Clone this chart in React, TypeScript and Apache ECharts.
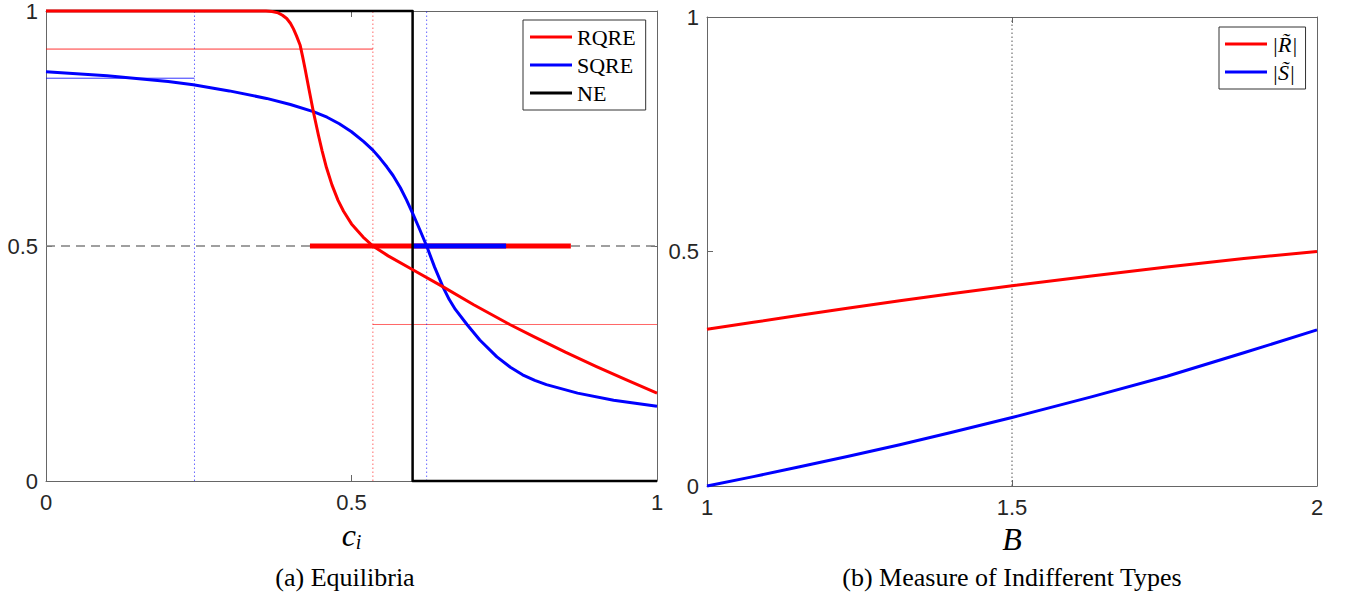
import React, { useEffect, useRef } from "react";
import * as echarts from "echarts";

// ---- Panel (a): Equilibria ----
const rqreC = [0, 0.3, 0.36, 0.37, 0.38, 0.387, 0.394, 0.4, 0.405, 0.41, 0.416, 0.42, 0.424, 0.43, 0.4375, 0.446, 0.452, 0.459, 0.468, 0.478, 0.487, 0.5, 0.519, 0.535, 0.56, 0.601, 0.65, 0.7, 0.759, 0.8, 0.85, 0.9, 0.95, 1.0];
const rqreP = [1, 1, 1, 0.999, 0.996, 0.991, 0.984, 0.974, 0.962, 0.947, 0.927, 0.903, 0.877, 0.836, 0.786, 0.735, 0.702, 0.667, 0.63, 0.597, 0.574, 0.547, 0.519, 0.5, 0.479, 0.449, 0.413, 0.375, 0.333, 0.306, 0.274, 0.244, 0.215, 0.187];
const sqreC = [0, 0.1, 0.2, 0.241, 0.3, 0.361, 0.4, 0.4375, 0.46, 0.48, 0.5, 0.52, 0.535, 0.547, 0.558, 0.568, 0.58, 0.59, 0.601, 0.612, 0.623, 0.636, 0.65, 0.66, 0.67, 0.689, 0.71, 0.738, 0.76, 0.78, 0.8, 0.819, 0.87, 0.929, 1];
const sqreP = [0.871, 0.862, 0.85, 0.843, 0.83, 0.814, 0.801, 0.786, 0.774, 0.76, 0.743, 0.722, 0.704, 0.686, 0.668, 0.65, 0.624, 0.598, 0.567, 0.534, 0.5, 0.455, 0.412, 0.386, 0.365, 0.333, 0.3, 0.264, 0.242, 0.226, 0.214, 0.205, 0.187, 0.172, 0.159];
const neC = [0, 0.6, 0.6, 1];
const neP = [1, 1, 0, 0];
const halfLevel = 0.5;
const rqreHigh = { level: 0.919, from: 0, to: 0.535 };
const sqreHigh = { level: 0.857, from: 0, to: 0.243 };
const rqreLow = { level: 0.333, from: 0.535, to: 1 };
const blueDotted = [0.243, 0.623];
const redDotted = [0.535];
const rqreRange = [0.432, 0.859];
const sqreRange = [0.6, 0.753];
const ticksA = { xMin: 0, xMax: 1, yMin: 0, yMax: 1, step: 0.5 };

// ---- Panel (b): Measure of Indifferent Types ----
const bVals = [1, 1.076, 1.152, 1.23, 1.316, 1.4, 1.5, 1.63, 1.754, 1.88, 2];
const rTilde = [0.334, 0.349, 0.364, 0.379, 0.395, 0.41, 0.427, 0.448, 0.467, 0.485, 0.5];
const sTilde = [0, 0.02, 0.041, 0.063, 0.088, 0.114, 0.146, 0.19, 0.234, 0.284, 0.333];
const bDotted = [1.5];
const ticksB = { xMin: 1, xMax: 2, yMin: 0, yMax: 1, step: 0.5 };

const zip = (xs: number[], ys: number[]) => xs.map((x, i) => [x, ys[i]]);

const SANS = "'Liberation Sans', Arial, Helvetica, sans-serif";
const SERIF = "'Liberation Serif', 'DejaVu Serif', serif";
const AXC = "#666";
const LBL = "#262626";

function axis(kind: "x" | "y", grid: number, pos: string, t: any, labels: boolean, extra: any = {}) {
  return {
    type: "value",
    gridIndex: grid,
    position: pos,
    min: kind === "x" ? t.xMin : t.yMin,
    max: kind === "x" ? t.xMax : t.yMax,
    interval: t.step,
    axisLine: { show: true, onZero: false, lineStyle: { color: AXC, width: 1 } },
    axisTick: { show: true, inside: true, length: 6, lineStyle: { color: AXC, width: 1 } },
    axisLabel: { show: labels, color: LBL, fontFamily: SANS, fontSize: 22, margin: kind === "x" ? 10 : 8 },
    splitLine: { show: false },
    ...extra,
  };
}

function seg(name: string, data: number[][], color: string, width: number, type: any, opacity = 1, xi = 0, yi = 0, z = 2) {
  return {
    type: "line",
    name,
    xAxisIndex: xi,
    yAxisIndex: yi,
    data,
    symbol: "none",
    clip: false,
    silent: true,
    z,
    lineStyle: { color, width, type, opacity, join: "round" },
  };
}

export default function App() {
  const ref = useRef<HTMLDivElement>(null);
  useEffect(() => {
    if (!ref.current) return;
    const chart = echarts.init(ref.current, undefined, { renderer: "svg" });
    const series: any[] = [];
    // panel a
    series.push(seg("", [[ticksA.xMin, halfLevel], [ticksA.xMax, halfLevel]], "#808080", 1.5, [9, 6], 1, 0, 0, 1));
    series.push(seg("", [[rqreHigh.from, rqreHigh.level], [rqreHigh.to, rqreHigh.level]], "#ff0000", 1, "solid", 0.8));
    series.push(seg("", [[sqreHigh.from, sqreHigh.level], [sqreHigh.to, sqreHigh.level]], "#0000ff", 1, "solid", 0.8));
    series.push(seg("", [[rqreLow.from, rqreLow.level], [rqreLow.to, rqreLow.level]], "#ff0000", 1, "solid", 0.6));
    blueDotted.forEach((x) => series.push(seg("", [[x, ticksA.yMin], [x, ticksA.yMax]], "#0000ff", 1, [1.5, 2.5], 0.6)));
    redDotted.forEach((x) => series.push(seg("", [[x, ticksA.yMin], [x, ticksA.yMax]], "#ff0000", 1, [1.5, 2.5], 0.6)));
    series.push(seg("", [[rqreRange[0], halfLevel], [rqreRange[1], halfLevel]], "#ff0000", 5, "solid", 1, 0, 0, 3));
    series.push(seg("", [[sqreRange[0], halfLevel], [sqreRange[1], halfLevel]], "#0000ff", 5, "solid", 1, 0, 0, 3));
    series.push({ ...seg("NE", zip(neC, neP), "#000000", 2.5, "solid", 1, 0, 0, 4), color: "#000000" });
    series.push({ ...seg("SQRE", zip(sqreC, sqreP), "#0000ff", 3, "solid", 1, 0, 0, 5), color: "#0000ff" });
    series.push({ ...seg("RQRE", zip(rqreC, rqreP), "#ff0000", 3, "solid", 1, 0, 0, 6), color: "#ff0000" });
    // panel b
    bDotted.forEach((x) => series.push(seg("", [[x, ticksB.yMin], [x, ticksB.yMax]], "#555555", 1, [1.5, 2.5], 1, 2, 2)));
    series.push({ ...seg("|R\u0303|", zip(bVals, rTilde), "#ff0000", 3, "solid", 1, 2, 2, 5), color: "#ff0000" });
    series.push({ ...seg("|S\u0303|", zip(bVals, sTilde), "#0000ff", 3, "solid", 1, 2, 2, 5), color: "#0000ff" });

    const legendBase = {
      orient: "vertical",
      icon: "rect",
      itemWidth: 42,
      itemHeight: 3,
      itemGap: 6,
      borderColor: "#333",
      borderWidth: 1,
      backgroundColor: "#fff",
      selectedMode: false,
      textStyle: { fontFamily: SERIF, fontSize: 22, color: "#000", lineHeight: 22 },
    };

    chart.setOption({
      animation: false,
      grid: [
        { left: 46, top: 9, width: 611, height: 472 },
        { left: 707, top: 17, width: 610, height: 469 },
      ],
      xAxis: [
        axis("x", 0, "bottom", ticksA, true, {
          name: "{c|c}{i|i}",
          nameLocation: "middle",
          nameGap: 37,
          nameTextStyle: {
            rich: {
              c: { fontFamily: SERIF, fontStyle: "italic", fontSize: 32, color: "#000" },
              i: { fontFamily: SERIF, fontStyle: "italic", fontSize: 20, color: "#000", padding: [14, 0, 0, 0] },
            },
          },
        }),
        axis("x", 0, "top", ticksA, false),
        axis("x", 1, "bottom", ticksB, true, {
          name: "B",
          nameLocation: "middle",
          nameGap: 36,
          nameTextStyle: { fontFamily: SERIF, fontStyle: "italic", fontSize: 32, color: "#000" },
        }),
        axis("x", 1, "top", ticksB, false),
      ],
      yAxis: [
        axis("y", 0, "left", ticksA, true),
        axis("y", 0, "right", ticksA, false),
        axis("y", 1, "left", ticksB, true),
        axis("y", 1, "right", ticksB, false),
      ],
      legend: [
        { ...legendBase, left: 523, top: 20, padding: [6, 10, 6, 7], data: ["RQRE", "SQRE", "NE"] },
        { ...legendBase, left: 1219, top: 27, padding: [6, 8, 6, 6], data: ["|R\u0303|", "|S\u0303|"], textStyle: { ...legendBase.textStyle, fontStyle: "italic" } },
      ],
      graphic: [
        { type: "text", x: 345, y: 564, style: { text: "(a) Equilibria", fontFamily: SERIF, fontSize: 26, fill: "#000", textAlign: "center" } },
        { type: "text", x: 1012, y: 564, style: { text: "(b) Measure of Indifferent Types", fontFamily: SERIF, fontSize: 26, fill: "#000", textAlign: "center" } },
      ],
      series,
    });
    return () => chart.dispose();
  }, []);
  return <div ref={ref} style={{ position: "absolute", left: 0, top: 0, width: 1349, height: 603 }} />;
}
